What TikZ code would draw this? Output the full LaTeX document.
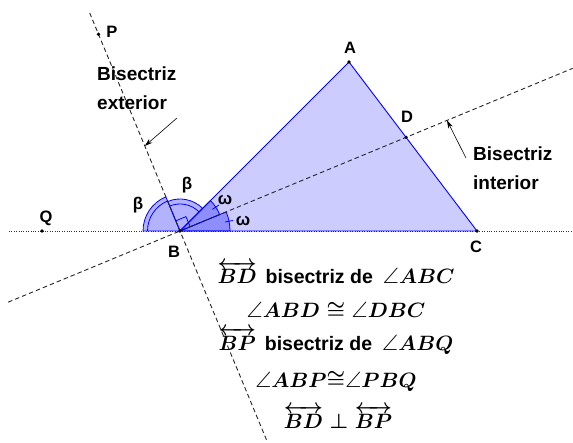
\documentclass[tikz,border=0pt]{standalone}
\usepackage{amsmath,amssymb}
\usepackage{fontspec}
\setmainfont{Liberation Sans}
\usetikzlibrary{arrows.meta,calc}
\definecolor{triblue}{RGB}{0,0,255}
\tikzset{
  dashln/.style={draw=black!85,line width=0.9pt,dash pattern=on 4.5pt off 3pt},
  dotln/.style={draw=black!80,line width=0.7pt,dash pattern=on 0.8pt off 1.6pt},
  pointdot/.style={circle,fill=black,inner sep=0pt,minimum size=3.6pt},
  ptlabel/.style={font=\fontsize{16.5}{18}\selectfont\bfseries,inner sep=0pt},
  biglabel/.style={font=\fontsize{19}{21}\selectfont\bfseries,inner sep=0pt,anchor=base west},
  greek/.style={font=\fontsize{17}{19}\selectfont\bfseries,inner sep=0pt},
  mathline/.style={font=\fontsize{22.3}{24}\selectfont\boldmath,inner sep=0pt,anchor=base},
  sector/.style={draw=triblue,line width=0.8pt,fill=triblue,fill opacity=0.3},
  pointer/.style={draw=black,line width=0.6pt,-{Stealth[length=8pt,width=5pt]}}
}
\newcommand{\sansbf}[1]{{\fontsize{19.5}{21}\selectfont\bfseries #1}}
\begin{document}
\begin{tikzpicture}[x=1pt,y=1pt]
\useasboundingbox (0,0) rectangle (573,442);
% points
\coordinate (B) at (180,211);
\coordinate (A) at (349,380);
\coordinate (C) at (477,211);
\coordinate (D) at ($(B)+(22.5:244.7)$);
\coordinate (P) at ($(B)+(112.5:213)$);
\coordinate (Q) at (42,211);
\coordinate (hL) at (9,211);
\coordinate (hR) at (573,211);
\coordinate (eT) at ($(B)+(112.5:236)$);
\coordinate (eB) at ($(B)+(292.5:229)$);
\coordinate (iL) at ($(B)+(202.5:186)$);
\coordinate (iR) at ($(B)+(22.5:425)$);
% triangle
\fill[triblue,fill opacity=0.2] (A) -- (B) -- (C) -- cycle;
% beta sectors
\path[sector] (B) -- ++(112.5:37) arc[start angle=112.5,end angle=180,radius=37] -- cycle;
\draw[triblue,line width=0.8pt] ($(B)+(112.5:32.5)$) arc[start angle=112.5,end angle=180,radius=32.5];
\path[sector] (B) -- ++(45:32) arc[start angle=45,end angle=112.5,radius=32] -- cycle;
\draw[triblue,line width=0.8pt] ($(B)+(45:27)$) arc[start angle=45,end angle=112.5,radius=27];
% omega sectors
\path[sector] (B) -- ++(0:50) arc[start angle=0,end angle=22.5,radius=50] -- cycle;
\path[sector] (B) -- ++(22.5:43) arc[start angle=22.5,end angle=45,radius=43] -- cycle;
\draw[triblue,line width=0.8pt] ($(B)+(11.25:46)$) -- ($(B)+(11.25:54)$);
\draw[triblue,line width=0.8pt] ($(B)+(33.75:39)$) -- ($(B)+(33.75:47)$);
% right angle mark
\draw[triblue,line width=0.8pt] ($(B)+(22.5:11)$) -- ($(B)+(22.5:11)+(112.5:11)$) -- ($(B)+(112.5:11)$);
% lines
\draw[dotln] (hL) -- (hR);
\draw[dashln] (eT) -- (eB);
\draw[dashln] (iL) -- (iR);
\draw[triblue,line width=0.9pt] (A) -- (B) -- (C) -- cycle;
% pointers
\coordinate (exTail) at (177,324);
\coordinate (exTip) at ($(B)+(112.5:92)$);
\coordinate (inTail) at (466,284);
\coordinate (inTip) at ($(B)+(22.5:289)$);
\draw[pointer] (exTail) -- (exTip);
\draw[pointer] (inTail) -- (inTip);
% dots
\foreach \p in {A,B,C,D,P,Q} \node[pointdot] (dot\p) at (\p) {};
% point labels
\node[ptlabel] (labA) at (350,394) {A};
\node[ptlabel] (labB) at (174,190) {B};
\node[ptlabel] (labC) at (476,195) {C};
\node[ptlabel] (labD) at (407,325) {D};
\node[ptlabel] (labP) at (112,410) {P};
\node[ptlabel] (labQ) at (46,224) {Q};
% greek labels
\node[greek] (w1) at (225,242) {ω};
\node[greek] (w2) at (243,221) {ω};
\node[greek] (b1) at (138,237) {β};
\node[greek] (b2) at (187,257) {β};
% bisector labels
\node[biglabel] (exA) at (97,361) {Bisectriz};
\node[biglabel] (exB) at (97,332) {exterior};
\node[biglabel] (inA) at (473,281) {Bisectriz};
\node[biglabel] (inB) at (473,252) {interior};
% text block
\node[mathline] (t1) at (336,158) {$\overleftrightarrow{BD}$\hspace{0.4em}\sansbf{bisectriz de}\hspace{0.45em}$\angle ABC$};
\node[mathline] (t2) at (336,124) {$\angle ABD \cong \angle DBC$};
\node[mathline] (t3) at (336,92) {$\overleftrightarrow{BP}$\hspace{0.4em}\sansbf{bisectriz de}\hspace{0.45em}$\angle ABQ$};
\node[mathline] (t4) at (336,55) {$\angle ABP{\cong}\angle PBQ$};
\node[mathline] (t5) at (338,14) {$\overleftrightarrow{BD}\perp\overleftrightarrow{BP}$};
\end{tikzpicture}
\end{document}
